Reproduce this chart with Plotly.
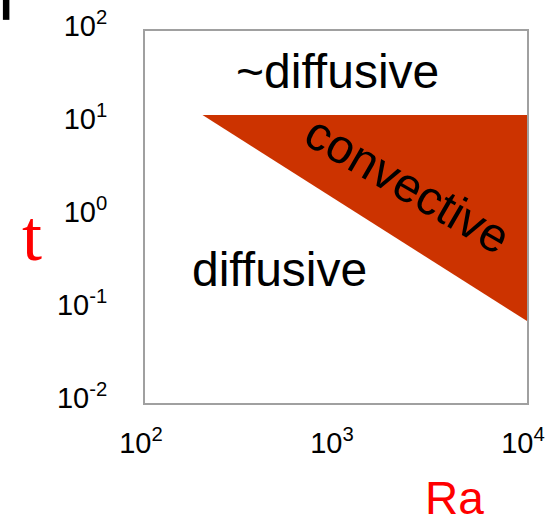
import numpy as np
import plotly.graph_objects as go

# Regime diagram: time t versus Rayleigh number Ra
ra_region = [200, 10000, 10000]
t_region = [12.5, 12.5, 0.076]

x_tick_vals = [100, 1000, 10000]
x_tick_text = ["10<sup>2</sup>", "10<sup>3</sup>", "10<sup>4</sup>"]
y_tick_vals = [0.01, 0.1, 1, 10, 100]
y_tick_text = ["10<sup>-2</sup>", "10<sup>-1</sup>", "10<sup>0</sup>",
               "10<sup>1</sup>", "10<sup>2</sup>"]

region_labels = ["~diffusive", "diffusive", "convective"]
label_ra = [1023, 509, 2355]
label_t = [37, 0.276, 2.21]
label_angle = [0, 0, 30]

fig = go.Figure()

fig.add_trace(go.Scatter(
    x=ra_region + [ra_region[0]],
    y=t_region + [t_region[0]],
    mode="lines",
    fill="toself",
    fillcolor="#CC3300",
    line=dict(width=0, color="#CC3300"),
    hoverinfo="skip",
    showlegend=False,
))

# annotations on log axes take log10 positions
for txt, xv, yv, ang in zip(region_labels, label_ra, label_t, label_angle):
    fig.add_annotation(
        x=np.log10(xv), y=np.log10(yv), xref="x", yref="y", text=txt,
        showarrow=False, textangle=ang, xanchor="center", yanchor="middle",
        font=dict(family="Liberation Sans, Arial, sans-serif", size=48, color="black"),
    )

# axis titles
fig.add_annotation(
    x=-0.296, y=0.449, xref="paper", yref="paper", text="t", showarrow=False,
    xanchor="center", yanchor="middle",
    font=dict(family="Liberation Serif, Times New Roman, serif", size=72, color="#FF0000"),
)
fig.add_annotation(
    x=0.809, y=-0.255, xref="paper", yref="paper", text="Ra", showarrow=False,
    xanchor="center", yanchor="middle",
    font=dict(family="Liberation Sans, Arial, sans-serif", size=46, color="#FF0000"),
)

# panel marker in the top-left corner
fig.add_shape(
    type="rect", xref="paper", yref="paper",
    x0=-0.372, x1=-0.355, y0=1.030, y1=1.085,
    fillcolor="black", line=dict(width=0),
)

axis_font = dict(family="Liberation Sans, Arial, sans-serif", size=29, color="black")

fig.update_xaxes(
    type="log", range=[2, 4], automargin=False,
    tickvals=x_tick_vals, ticktext=x_tick_text,
    showgrid=False, zeroline=False,
    showline=True, mirror=True, linecolor="#A0A0A0", linewidth=2,
    ticks="", ticklabelstandoff=13, ticklabelshift=-4, tickfont=axis_font,
)
fig.update_yaxes(
    type="log", range=[-2, 2], automargin=False,
    tickvals=y_tick_vals, ticktext=y_tick_text,
    showgrid=False, zeroline=False,
    showline=True, mirror=True, linecolor="#A0A0A0", linewidth=2,
    ticks="", ticklabelstandoff=30, ticklabelshift=-5, tickfont=axis_font,
)

fig.update_layout(
    width=554, height=519,
    margin=dict(l=145, r=27, t=31, b=116),
    paper_bgcolor="white", plot_bgcolor="white",
    showlegend=False,
)

fig.write_html("out.html")
